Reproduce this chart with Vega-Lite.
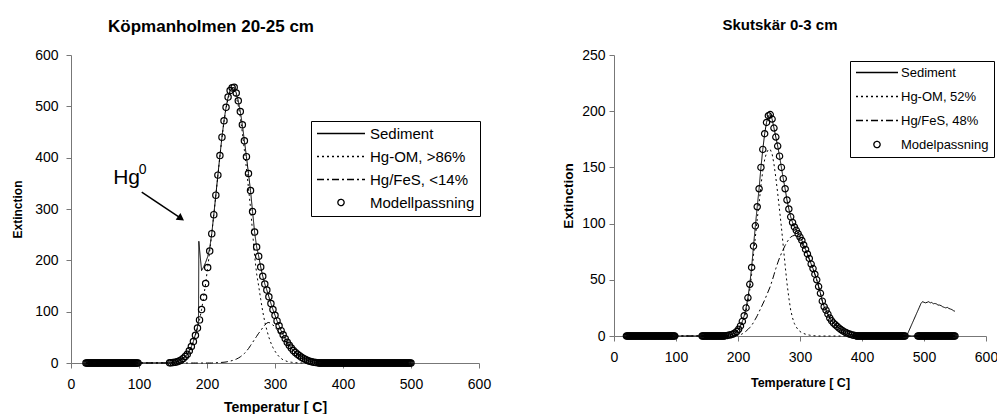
{
  "$schema": "https://vega.github.io/schema/vega-lite/v6.json",
  "background": "white",
  "padding": {"left": 11, "top": 18, "right": 0, "bottom": 0},
  "config": {
    "view": {"stroke": null},
    "font": "Liberation Sans",
    "axis": {"domainColor": "#777", "tickColor": "#777", "tickSize": 5, "grid": false, "labelFlush": false, "labelFont": "Liberation Sans", "labelFontSize": 14, "labelColor": "black", "titleFont": "Liberation Sans", "titleFontWeight": "bold", "titleColor": "black"}
  },
  "spacing": 70,
  "datasets": {
    "left": [
      {"t":22,"sed":0,"om":0,"fes":0,"fit":0},
      {"t":23.5,"fit":0},{"t":25,"fit":0},{"t":26.5,"fit":0},{"t":28,"fit":0},{"t":29.5,"fit":0},{"t":31,"fit":0},{"t":32.5,"fit":0},{"t":34,"fit":0},{"t":35.5,"fit":0},
      {"t":37,"fit":0},{"t":38.5,"fit":0},{"t":40,"fit":0},{"t":41.5,"fit":0},{"t":43,"fit":0},{"t":44.5,"fit":0},{"t":46,"fit":0},{"t":47.5,"fit":0},{"t":49,"fit":0},
      {"t":50.5,"fit":0},{"t":52,"fit":0},{"t":53.5,"fit":0},{"t":55,"fit":0},{"t":56.5,"fit":0},{"t":58,"fit":0},{"t":59.5,"fit":0},{"t":61,"fit":0},{"t":62.5,"fit":0},
      {"t":64,"fit":0},{"t":65.5,"fit":0},{"t":67,"fit":0},{"t":68.5,"fit":0},{"t":70,"fit":0},{"t":71.5,"fit":0},{"t":73,"fit":0},{"t":74.5,"fit":0},{"t":76,"fit":0},
      {"t":77.5,"fit":0},{"t":79,"fit":0},{"t":80.5,"fit":0},{"t":82,"fit":0},{"t":83.5,"fit":0},{"t":85,"fit":0},{"t":86.5,"fit":0},{"t":88,"fit":0},{"t":89.5,"fit":0},
      {"t":91,"fit":0},{"t":92.5,"fit":0},{"t":94,"fit":0},{"t":95.5,"fit":0},{"t":97,"fit":0},{"t":98.5,"fit":0},
      {"t":145,"sed":0.3,"om":0.3,"fes":0,"fit":0.3},
      {"t":147,"sed":0.5,"om":0.5,"fes":0,"fit":0.5},
      {"t":150,"sed":1,"om":1,"fes":0,"fit":1},
      {"t":153,"sed":1.5,"om":1.5,"fes":0,"fit":1.5},
      {"t":156,"sed":2.5,"om":2.5,"fes":0,"fit":2.5},
      {"t":159,"sed":4,"om":4,"fes":0,"fit":4},
      {"t":162,"sed":6,"om":6,"fes":0,"fit":6},
      {"t":165,"sed":9,"om":9,"fes":0,"fit":9},
      {"t":168,"sed":12.5,"om":12.5,"fes":0,"fit":12.5},
      {"t":171,"sed":17,"om":17,"fes":0,"fit":17},
      {"t":174,"sed":24,"om":24,"fes":0,"fit":24},
      {"t":177,"sed":32,"om":32,"fes":0,"fit":32},
      {"t":180,"sed":42,"om":42,"fes":0,"fit":42},
      {"t":183,"sed":56,"om":54,"fes":0,"fit":54},
      {"t":186,"sed":70,"om":68,"fes":0,"fit":68},
      {"t":187.5,"sed":82,"om":76,"fes":0},
      {"t":188,"sed":237,"om":78.5,"fes":0},
      {"t":189,"sed":222,"om":84,"fes":0,"fit":84},
      {"t":192,"sed":180,"om":104,"fes":0,"fit":104},
      {"t":195,"sed":187,"om":128,"fes":0,"fit":128},
      {"t":198,"sed":196,"om":155,"fes":0,"fit":155},
      {"t":201,"sed":207,"om":186,"fes":0,"fit":186},
      {"t":204,"sed":224,"om":218,"fes":0,"fit":218},
      {"t":207,"sed":252,"om":252,"fes":0,"fit":252},
      {"t":210,"sed":289,"om":288.7,"fes":0.3,"fit":289},
      {"t":213,"sed":327,"om":326.5,"fes":0.5,"fit":327},
      {"t":216,"sed":366,"om":365.3,"fes":0.7,"fit":366},
      {"t":219,"sed":404,"om":403,"fes":0.9,"fit":404},
      {"t":222,"sed":440,"om":439,"fes":1.2,"fit":440},
      {"t":225,"sed":472,"om":470.5,"fes":1.5,"fit":472},
      {"t":228,"sed":498,"om":496,"fes":2,"fit":498},
      {"t":231,"sed":518,"om":515,"fes":2.8,"fit":518},
      {"t":234,"sed":531,"om":527,"fes":3.7,"fit":531},
      {"t":237,"sed":536,"om":531,"fes":4.7,"fit":536},
      {"t":240,"sed":537,"om":531,"fes":6,"fit":537},
      {"t":243,"sed":526,"om":518.5,"fes":7.5,"fit":526},
      {"t":246,"sed":511,"om":501.5,"fes":9.5,"fit":511},
      {"t":249,"sed":490,"om":478,"fes":12,"fit":490},
      {"t":252,"sed":464,"om":449,"fes":15,"fit":464},
      {"t":255,"sed":433,"om":414.5,"fes":18.5,"fit":433},
      {"t":258,"sed":402,"om":379,"fes":23,"fit":402},
      {"t":261,"sed":369,"om":341,"fes":28,"fit":369},
      {"t":264,"sed":336,"om":302,"fes":34,"fit":336},
      {"t":267,"sed":295,"om":255,"fes":40,"fit":295},
      {"t":270,"sed":255,"om":209,"fes":46,"fit":255},
      {"t":273,"sed":226,"om":174,"fes":52,"fit":226},
      {"t":276,"sed":208,"om":150,"fes":58,"fit":208},
      {"t":279,"sed":187,"om":124,"fes":63,"fit":187},
      {"t":282,"sed":169,"om":100,"fes":69,"fit":169},
      {"t":285,"sed":154,"om":80,"fes":74,"fit":154},
      {"t":288,"sed":142,"om":64,"fes":78,"fit":142},
      {"t":291,"sed":129,"om":50,"fes":79,"fit":129},
      {"t":294,"sed":116,"om":39,"fes":77,"fit":116},
      {"t":297,"sed":104,"om":30,"fes":74,"fit":104},
      {"t":300,"sed":93,"om":23,"fes":70,"fit":93},
      {"t":303,"sed":82,"om":17,"fes":65,"fit":82},
      {"t":306,"sed":72.5,"om":12.5,"fes":60,"fit":72.5},
      {"t":309,"sed":63,"om":9,"fes":54,"fit":63},
      {"t":312,"sed":55,"om":6,"fes":49,"fit":55},
      {"t":315,"sed":47.5,"om":4.5,"fes":43,"fit":47.5},
      {"t":318,"sed":40.5,"om":3,"fes":37.5,"fit":40.5},
      {"t":321,"sed":34.5,"om":2,"fes":32.5,"fit":34.5},
      {"t":324,"sed":29,"om":1.5,"fes":27.5,"fit":29},
      {"t":327,"sed":24.5,"om":1,"fes":23.5,"fit":24.5},
      {"t":330,"sed":20.5,"om":0.5,"fes":20,"fit":20.5},
      {"t":333,"sed":17,"om":0.3,"fes":16.5,"fit":17},
      {"t":336,"sed":16,"om":0.2,"fes":13.5,"fit":14},
      {"t":339,"sed":13,"om":0.1,"fes":11,"fit":11},
      {"t":342,"sed":10,"om":0,"fes":9,"fit":9},
      {"t":345,"sed":7,"om":0,"fes":7,"fit":7},
      {"t":348,"sed":5,"om":0,"fes":5,"fit":5},
      {"t":351,"sed":3.5,"om":0,"fes":3.5,"fit":3.5},
      {"t":354,"sed":2.5,"om":0,"fes":2.5,"fit":2.5},
      {"t":357,"sed":1.5,"om":0,"fes":1.5,"fit":1.5},
      {"t":360,"sed":1,"om":0,"fes":1,"fit":1},
      {"t":363,"sed":0.5,"om":0,"fes":0.5,"fit":0.5},
      {"t":365,"sed":0,"om":0,"fes":0,"fit":0},
      {"t":366.5,"fit":0},{"t":368,"fit":0},{"t":369.5,"fit":0},{"t":371,"fit":0},{"t":372.5,"fit":0},{"t":374,"fit":0},{"t":375.5,"fit":0},{"t":377,"fit":0},{"t":378.5,"fit":0},
      {"t":380,"fit":0},{"t":381.5,"fit":0},{"t":383,"fit":0},{"t":384.5,"fit":0},{"t":386,"fit":0},{"t":387.5,"fit":0},{"t":389,"fit":0},{"t":390.5,"fit":0},{"t":392,"fit":0},
      {"t":393.5,"fit":0},{"t":395,"fit":0},{"t":396.5,"fit":0},{"t":398,"fit":0},{"t":399.5,"fit":0},{"t":401,"fit":0},{"t":402.5,"fit":0},{"t":404,"fit":0},{"t":405.5,"fit":0},
      {"t":407,"fit":0},{"t":408.5,"fit":0},{"t":410,"fit":0},{"t":411.5,"fit":0},{"t":413,"fit":0},{"t":414.5,"fit":0},{"t":416,"fit":0},{"t":417.5,"fit":0},{"t":419,"fit":0},
      {"t":420.5,"fit":0},{"t":422,"fit":0},{"t":423.5,"fit":0},{"t":425,"fit":0},{"t":426.5,"fit":0},{"t":428,"fit":0},{"t":429.5,"fit":0},{"t":431,"fit":0},{"t":432.5,"fit":0},
      {"t":434,"fit":0},{"t":435.5,"fit":0},{"t":437,"fit":0},{"t":438.5,"fit":0},{"t":440,"fit":0},{"t":441.5,"fit":0},{"t":443,"fit":0},{"t":444.5,"fit":0},{"t":446,"fit":0},
      {"t":447.5,"fit":0},{"t":449,"fit":0},{"t":450.5,"fit":0},{"t":452,"fit":0},{"t":453.5,"fit":0},{"t":455,"fit":0},{"t":456.5,"fit":0},{"t":458,"fit":0},{"t":459.5,"fit":0},
      {"t":461,"fit":0},{"t":462.5,"fit":0},{"t":464,"fit":0},{"t":465.5,"fit":0},{"t":467,"fit":0},{"t":468.5,"fit":0},{"t":470,"fit":0},{"t":471.5,"fit":0},{"t":473,"fit":0},
      {"t":474.5,"fit":0},{"t":476,"fit":0},{"t":477.5,"fit":0},{"t":479,"fit":0},{"t":480.5,"fit":0},{"t":482,"fit":0},{"t":483.5,"fit":0},{"t":485,"fit":0},{"t":486.5,"fit":0},
      {"t":488,"fit":0},{"t":489.5,"fit":0},{"t":491,"fit":0},{"t":492.5,"fit":0},{"t":494,"fit":0},{"t":495.5,"fit":0},{"t":497,"fit":0},{"t":498.5,"fit":0},
      {"t":500,"sed":0,"om":0,"fes":0,"fit":0}
    ],
    "right": [
      {"t":20,"sed":0,"om":0,"fes":0,"fit":0},
      {"t":21.5,"fit":0},{"t":23,"fit":0},{"t":24.5,"fit":0},{"t":26,"fit":0},{"t":27.5,"fit":0},{"t":29,"fit":0},{"t":30.5,"fit":0},{"t":32,"fit":0},{"t":33.5,"fit":0},
      {"t":35,"fit":0},{"t":36.5,"fit":0},{"t":38,"fit":0},{"t":39.5,"fit":0},{"t":41,"fit":0},{"t":42.5,"fit":0},{"t":44,"fit":0},{"t":45.5,"fit":0},{"t":47,"fit":0},
      {"t":48.5,"fit":0},{"t":50,"fit":0},{"t":51.5,"fit":0},{"t":53,"fit":0},{"t":54.5,"fit":0},{"t":56,"fit":0},{"t":57.5,"fit":0},{"t":59,"fit":0},{"t":60.5,"fit":0},
      {"t":62,"fit":0},{"t":63.5,"fit":0},{"t":65,"fit":0},{"t":66.5,"fit":0},{"t":68,"fit":0},{"t":69.5,"fit":0},{"t":71,"fit":0},{"t":72.5,"fit":0},{"t":74,"fit":0},
      {"t":75.5,"fit":0},{"t":77,"fit":0},{"t":78.5,"fit":0},{"t":80,"fit":0},{"t":81.5,"fit":0},{"t":83,"fit":0},{"t":84.5,"fit":0},{"t":86,"fit":0},{"t":87.5,"fit":0},
      {"t":89,"fit":0},{"t":90.5,"fit":0},{"t":92,"fit":0},{"t":93.5,"fit":0},{"t":95,"fit":0},{"t":96.5,"fit":0},{"t":98,"fit":0},
      {"t":142,"fit":0},{"t":143.5,"fit":0},{"t":145,"fit":0},{"t":146.5,"fit":0},{"t":148,"fit":0},{"t":149.5,"fit":0},{"t":151,"fit":0},{"t":152.5,"fit":0},
      {"t":154,"fit":0},{"t":155.5,"fit":0},{"t":157,"fit":0},{"t":158.5,"fit":0},{"t":160,"fit":0},{"t":161.5,"fit":0},{"t":163,"fit":0},{"t":164.5,"fit":0},
      {"t":166,"fit":0},{"t":167.5,"fit":0},{"t":169,"fit":0},{"t":170.5,"fit":0},{"t":172,"fit":0},{"t":173.5,"fit":0},{"t":175,"fit":0},{"t":176.5,"fit":0},
      {"t":178,"sed":0.1,"om":0.1,"fes":0,"fit":0.1},
      {"t":180,"sed":0.3,"om":0.3,"fes":0,"fit":0.3},
      {"t":183,"sed":0.5,"om":0.5,"fes":0,"fit":0.5},
      {"t":186,"sed":0.8,"om":0.8,"fes":0,"fit":0.8},
      {"t":189,"sed":1.2,"om":1.2,"fes":0,"fit":1.2},
      {"t":192,"sed":1.8,"om":1.8,"fes":0,"fit":1.8},
      {"t":195,"sed":2.7,"om":2.5,"fes":0.2,"fit":2.7},
      {"t":198,"sed":4,"om":3.6,"fes":0.5,"fit":4},
      {"t":201,"sed":6,"om":5.5,"fes":0.7,"fit":6},
      {"t":204,"sed":9,"om":8,"fes":1,"fit":9},
      {"t":207,"sed":13,"om":11.5,"fes":2,"fit":13},
      {"t":210,"sed":18,"om":16,"fes":3,"fit":18},
      {"t":213,"sed":25,"om":22,"fes":4.3,"fit":25},
      {"t":216,"sed":34,"om":30,"fes":5.8,"fit":34},
      {"t":219,"sed":46,"om":41,"fes":7.5,"fit":46},
      {"t":222,"sed":61,"om":55,"fes":9.5,"fit":61},
      {"t":225,"sed":80,"om":72,"fes":12,"fit":80},
      {"t":228,"sed":98,"om":88,"fes":15,"fit":98},
      {"t":231,"sed":115,"om":104,"fes":18,"fit":115},
      {"t":234,"sed":131,"om":118,"fes":21.5,"fit":131},
      {"t":237,"sed":150,"om":134,"fes":25,"fit":150},
      {"t":240,"sed":166,"om":147,"fes":28.5,"fit":166},
      {"t":243,"sed":180,"om":157,"fes":32,"fit":180},
      {"t":246,"sed":190,"om":163,"fes":36,"fit":190},
      {"t":249,"sed":196,"om":166,"fes":40,"fit":196},
      {"t":252,"sed":197,"om":166,"fes":44,"fit":197},
      {"t":255,"sed":193,"om":162,"fes":49,"fit":193},
      {"t":258,"sed":185,"om":153,"fes":54.5,"fit":185},
      {"t":261,"sed":177,"om":141,"fes":60,"fit":177},
      {"t":264,"sed":169,"om":127,"fes":65,"fit":169},
      {"t":267,"sed":160,"om":112,"fes":69.5,"fit":160},
      {"t":270,"sed":150,"om":97,"fes":73.5,"fit":150},
      {"t":273,"sed":140,"om":80,"fes":77,"fit":140},
      {"t":276,"sed":131,"om":63,"fes":80.5,"fit":131},
      {"t":279,"sed":121,"om":47,"fes":83.5,"fit":121},
      {"t":282,"sed":113,"om":34,"fes":86,"fit":113},
      {"t":285,"sed":106,"om":23,"fes":88,"fit":106},
      {"t":288,"sed":101,"om":16,"fes":89,"fit":101},
      {"t":291,"sed":97,"om":11,"fes":89.5,"fit":97},
      {"t":294,"sed":94,"om":8,"fes":89,"fit":94},
      {"t":297,"sed":91,"om":5.5,"fes":88,"fit":91},
      {"t":300,"sed":88,"om":4,"fes":85,"fit":88},
      {"t":303,"sed":85,"om":3,"fes":82,"fit":85},
      {"t":306,"sed":81,"om":2.2,"fes":79,"fit":81},
      {"t":309,"sed":77,"om":1.6,"fes":75.5,"fit":77},
      {"t":312,"sed":73,"om":1.1,"fes":72,"fit":73},
      {"t":315,"sed":69,"om":0.8,"fes":68,"fit":69},
      {"t":318,"sed":64,"om":0.5,"fes":63.5,"fit":64},
      {"t":321,"sed":60,"om":0.3,"fes":59.5,"fit":60},
      {"t":324,"sed":55,"om":0.2,"fes":55,"fit":55},
      {"t":327,"sed":50,"om":0.1,"fes":50,"fit":50},
      {"t":330,"sed":44,"om":0,"fes":44,"fit":44},
      {"t":333,"sed":38,"om":0,"fes":38,"fit":38},
      {"t":336,"sed":31,"om":0,"fes":31,"fit":31},
      {"t":339,"sed":26,"om":0,"fes":26,"fit":26},
      {"t":342,"sed":23,"om":0,"fes":23,"fit":23},
      {"t":345,"sed":19.5,"om":0,"fes":19.5,"fit":19.5},
      {"t":348,"sed":16,"om":0,"fes":16,"fit":16},
      {"t":351,"sed":13.5,"om":0,"fes":13.5,"fit":13.5},
      {"t":354,"sed":11.5,"om":0,"fes":11.5,"fit":11.5},
      {"t":357,"sed":10,"om":0,"fes":10,"fit":10},
      {"t":360,"sed":8.5,"om":0,"fes":8.5,"fit":8.5},
      {"t":363,"sed":7,"om":0,"fes":7,"fit":7},
      {"t":366,"sed":5.7,"om":0,"fes":5.7,"fit":5.7},
      {"t":369,"sed":4.6,"om":0,"fes":4.6,"fit":4.6},
      {"t":372,"sed":3.6,"om":0,"fes":3.6,"fit":3.6},
      {"t":375,"sed":2.8,"om":0,"fes":2.8,"fit":2.8},
      {"t":378,"sed":2.1,"om":0,"fes":2.1,"fit":2.1},
      {"t":381,"sed":1.5,"om":0,"fes":1.5,"fit":1.5},
      {"t":384,"sed":1,"om":0,"fes":1,"fit":1},
      {"t":387,"sed":0.6,"om":0,"fes":0.6,"fit":0.6},
      {"t":390,"sed":0.3,"om":0,"fes":0.3,"fit":0.3},
      {"t":391.5,"fit":0},{"t":393,"fit":0},{"t":394.5,"fit":0},{"t":396,"fit":0},{"t":397.5,"fit":0},{"t":399,"fit":0},{"t":400.5,"fit":0},{"t":402,"fit":0},
      {"t":403.5,"fit":0},{"t":405,"fit":0},{"t":406.5,"fit":0},{"t":408,"fit":0},{"t":409.5,"fit":0},{"t":411,"fit":0},{"t":412.5,"fit":0},{"t":414,"fit":0},
      {"t":415.5,"fit":0},{"t":417,"fit":0},{"t":418.5,"fit":0},{"t":420,"fit":0},{"t":421.5,"fit":0},{"t":423,"fit":0},{"t":424.5,"fit":0},{"t":426,"fit":0},
      {"t":427.5,"fit":0},{"t":429,"fit":0},{"t":430.5,"fit":0},{"t":432,"fit":0},{"t":433.5,"fit":0},{"t":435,"fit":0},{"t":436.5,"fit":0},{"t":438,"fit":0},
      {"t":439.5,"fit":0},{"t":441,"fit":0},{"t":442.5,"fit":0},{"t":444,"fit":0},{"t":445.5,"fit":0},{"t":447,"fit":0},{"t":448.5,"fit":0},{"t":450,"fit":0},
      {"t":451.5,"fit":0},{"t":453,"fit":0},{"t":454.5,"fit":0},{"t":456,"fit":0},{"t":457.5,"fit":0},{"t":459,"fit":0},{"t":460.5,"fit":0},{"t":462,"fit":0},
      {"t":463.5,"fit":0},{"t":465,"fit":0},{"t":466.5,"fit":0},{"t":468,"fit":0},{"t":469.5,"fit":0},
      {"t":472,"sed":0,"om":0,"fes":0},
      {"t":490,"sed":22.5,"om":0,"fes":0,"fit":0},
      {"t":491.5,"fit":0},{"t":493,"fit":0},{"t":494.5,"fit":0},{"t":496,"fit":0},{"t":497.5,"fit":0},{"t":499,"fit":0},{"t":500.5,"fit":0},{"t":502,"fit":0},
      {"t":503.5,"fit":0},{"t":505,"fit":0},{"t":506.5,"fit":0},{"t":508,"fit":0},{"t":509.5,"fit":0},{"t":511,"fit":0},{"t":512.5,"fit":0},{"t":514,"fit":0},
      {"t":515.5,"fit":0},{"t":517,"fit":0},{"t":518.5,"fit":0},{"t":520,"fit":0},{"t":521.5,"fit":0},{"t":523,"fit":0},{"t":524.5,"fit":0},{"t":526,"fit":0},
      {"t":527.5,"fit":0},{"t":529,"fit":0},{"t":530.5,"fit":0},{"t":532,"fit":0},{"t":533.5,"fit":0},{"t":535,"fit":0},{"t":536.5,"fit":0},{"t":538,"fit":0},
      {"t":539.5,"fit":0},{"t":541,"fit":0},{"t":542.5,"fit":0},{"t":544,"fit":0},{"t":545.5,"fit":0},{"t":547,"fit":0},{"t":548.5,"fit":0},
      {"t":492.5,"sed":25.6},
      {"t":495,"sed":28.8},
      {"t":497.4,"sed":30.5},
      {"t":500,"sed":30},
      {"t":502.4,"sed":29.5},
      {"t":505.1,"sed":30},
      {"t":507.6,"sed":30.5},
      {"t":510.1,"sed":29.5},
      {"t":512.6,"sed":30},
      {"t":515.1,"sed":28.5},
      {"t":517.6,"sed":29},
      {"t":520.1,"sed":28.5},
      {"t":522.6,"sed":27.5},
      {"t":525.1,"sed":27.5},
      {"t":527.6,"sed":27},
      {"t":530.1,"sed":26},
      {"t":532.6,"sed":25.5},
      {"t":535.1,"sed":25},
      {"t":537.6,"sed":25.5},
      {"t":540.1,"sed":24.5},
      {"t":542.6,"sed":24},
      {"t":545.1,"sed":23.5},
      {"t":547.6,"sed":22.5},
      {"t":550,"sed":22,"om":0,"fes":0,"fit":0}
    ]
  },
  "resolve": {
    "scale": {"x": "independent", "y": "independent", "strokeDash": "independent", "shape": "independent"},
    "legend": {"strokeDash": "independent", "shape": "independent"}
  },
  "hconcat": [
    {
      "width": 408,
      "height": 308,
      "title": {"text": "Köpmanholmen 20-25 cm", "font": "Liberation Sans", "fontSize": 17, "fontWeight": "bold", "color": "black", "anchor": "middle", "dx": -64, "offset": 12},
      "data": {"name": "left"},
      "encoding": {
        "x": {"field": "t", "type": "quantitative", "scale": {"domain": [0, 600], "nice": false}, "axis": {"values": [0, 100, 200, 300, 400, 500, 600], "title": "Temperatur [ C]", "titleFontSize": 14, "labelPadding": 9, "titlePadding": 9}},
        "y": {"field": "value", "type": "quantitative", "scale": {"domain": [0, 600], "nice": false}, "axis": {"values": [0, 100, 200, 300, 400, 500, 600], "title": "Extinction", "titleFontSize": 12, "labelPadding": 8, "titlePadding": 10}}
      },
      "layer": [
        {
          "transform": [{"fold": ["sed", "om", "fes", "fit"], "as": ["series", "value"]}, {"filter": "datum.series != 'fit' && isValid(datum.value)"}],
          "mark": {"type": "line", "color": "black", "strokeWidth": 1},
          "encoding": {
            "strokeWidth": {"condition": {"test": "datum.series == 'om'", "value": 1.8}, "value": 1},
            "strokeDash": {"field": "series", "type": "nominal",
              "scale": {"domain": ["sed", "om", "fes", "fit"], "range": [[1, 0], [2, 3], [7, 3, 2, 3], [1, 0]]},
              "legend": {"title": null, "orient": "none", "legendX": 240, "legendY": 66, "direction": "vertical", "strokeColor": "black", "fillColor": "white", "padding": 5, "symbolSize": 2300, "clipHeight": 15, "rowPadding": 7, "labelFontSize": 15, "labelFont": "Liberation Sans", "labelColor": "black", "labelOffset": 4, "symbolStrokeColor": "black", "symbolFillColor": "transparent", "symbolStrokeWidth": 1.3, "labelLimit": 300,
                "labelExpr": "datum.label == 'sed' ? 'Sediment' : datum.label == 'om' ? 'Hg-OM, >86%' : datum.label == 'fes' ? 'Hg/FeS, <14%' : 'Modellpassning'"}}
          }
        },
        {
          "transform": [{"fold": ["sed", "om", "fes", "fit"], "as": ["series", "value"]}, {"filter": "datum.series == 'fit' && isValid(datum.value)"}],
          "mark": {"type": "point", "filled": false, "color": "black", "size": 2300, "strokeWidth": 1.2, "opacity": 1},
          "encoding": {
            "shape": {"field": "series", "type": "nominal",
              "scale": {"domain": ["sed", "om", "fes", "fit"], "range": ["stroke", "stroke", "stroke", "M0.131,0A0.131,0.131,0,1,1,-0.131,0A0.131,0.131,0,1,1,0.131,0Z"]},
              "legend": {"title": null, "orient": "none", "legendX": 240, "legendY": 66, "direction": "vertical", "strokeColor": "black", "fillColor": "white", "padding": 5, "symbolSize": 2300, "clipHeight": 15, "rowPadding": 7, "labelFontSize": 15, "labelFont": "Liberation Sans", "labelColor": "black", "labelOffset": 4, "symbolStrokeColor": "black", "symbolFillColor": "transparent", "symbolStrokeWidth": 1.3, "labelLimit": 300,
                "labelExpr": "datum.label == 'sed' ? 'Sediment' : datum.label == 'om' ? 'Hg-OM, >86%' : datum.label == 'fes' ? 'Hg/FeS, <14%' : 'Modellpassning'"}}
          }
        },
        {
          "data": {"values": [{"t": 62, "value": 349, "label": "Hg"}]},
          "mark": {"type": "text", "align": "left", "baseline": "alphabetic", "font": "Liberation Sans", "fontSize": 21, "color": "black"},
          "encoding": {"text": {"field": "label"}}
        },
        {
          "data": {"values": [{"t": 99.5, "value": 368, "label": "0"}]},
          "mark": {"type": "text", "align": "left", "baseline": "alphabetic", "font": "Liberation Sans", "fontSize": 14, "color": "black"},
          "encoding": {"text": {"field": "label"}}
        },
        {
          "data": {"values": [{"t": 104, "value": 333, "t2": 161.8, "v2": 281.7}]},
          "mark": {"type": "rule", "color": "black", "strokeWidth": 1.5},
          "encoding": {"x2": {"field": "t2"}, "y2": {"field": "v2"}}
        },
        {
          "data": {"values": [{"t": 161.8, "value": 281.7}]},
          "mark": {"type": "point", "shape": "triangle-right", "angle": 35, "size": 70, "filled": true, "color": "black", "opacity": 1},
          "encoding": {}
        }
      ]
    },
    {
      "width": 372,
      "height": 281,
      "title": {"text": "Skutskär 0-3 cm", "font": "Liberation Sans", "fontSize": 15, "fontWeight": "bold", "color": "black", "anchor": "middle", "dx": -20, "offset": 15},
      "data": {"name": "right"},
      "encoding": {
        "x": {"field": "t", "type": "quantitative", "scale": {"domain": [0, 600], "nice": false}, "axis": {"values": [0, 100, 200, 300, 400, 500, 600], "title": "Temperature [ C]", "titleFontSize": 12.5, "labelPadding": 9, "titlePadding": 12}},
        "y": {"field": "value", "type": "quantitative", "scale": {"domain": [0, 250], "nice": false}, "axis": {"values": [0, 50, 100, 150, 200, 250], "title": "Extinction", "titleFontSize": 13.5, "labelPadding": 4, "titlePadding": 6}}
      },
      "layer": [
        {
          "transform": [{"fold": ["sed", "om", "fes", "fit"], "as": ["series", "value"]}, {"filter": "datum.series != 'fit' && isValid(datum.value)"}],
          "mark": {"type": "line", "color": "black", "strokeWidth": 1},
          "encoding": {
            "strokeWidth": {"condition": {"test": "datum.series == 'om'", "value": 1.8}, "value": 1},
            "strokeDash": {"field": "series", "type": "nominal",
              "scale": {"domain": ["sed", "om", "fes", "fit"], "range": [[1, 0], [2, 3], [7, 3, 2, 3], [1, 0]]},
              "legend": {"title": null, "orient": "none", "legendX": 236, "legendY": 6, "direction": "vertical", "strokeColor": "black", "fillColor": "white", "padding": 5, "symbolSize": 1764, "clipHeight": 13, "rowPadding": 10, "labelFontSize": 13, "labelFont": "Liberation Sans", "labelColor": "black", "labelOffset": 2, "symbolStrokeColor": "black", "symbolFillColor": "transparent", "symbolStrokeWidth": 1.3, "labelLimit": 300,
                "labelExpr": "datum.label == 'sed' ? 'Sediment' : datum.label == 'om' ? 'Hg-OM, 52%' : datum.label == 'fes' ? 'Hg/FeS, 48%' : 'Modelpassning'"}}
          }
        },
        {
          "transform": [{"fold": ["sed", "om", "fes", "fit"], "as": ["series", "value"]}, {"filter": "datum.series == 'fit' && isValid(datum.value)"}],
          "mark": {"type": "point", "filled": false, "color": "black", "size": 1764, "strokeWidth": 1.2, "opacity": 1},
          "encoding": {
            "shape": {"field": "series", "type": "nominal",
              "scale": {"domain": ["sed", "om", "fes", "fit"], "range": ["stroke", "stroke", "stroke", "M0.15,0A0.15,0.15,0,1,1,-0.15,0A0.15,0.15,0,1,1,0.15,0Z"]},
              "legend": {"title": null, "orient": "none", "legendX": 236, "legendY": 6, "direction": "vertical", "strokeColor": "black", "fillColor": "white", "padding": 5, "symbolSize": 1764, "clipHeight": 13, "rowPadding": 10, "labelFontSize": 13, "labelFont": "Liberation Sans", "labelColor": "black", "labelOffset": 2, "symbolStrokeColor": "black", "symbolFillColor": "transparent", "symbolStrokeWidth": 1.3, "labelLimit": 300,
                "labelExpr": "datum.label == 'sed' ? 'Sediment' : datum.label == 'om' ? 'Hg-OM, 52%' : datum.label == 'fes' ? 'Hg/FeS, 48%' : 'Modelpassning'"}}
          }
        }
      ]
    }
  ]
}
